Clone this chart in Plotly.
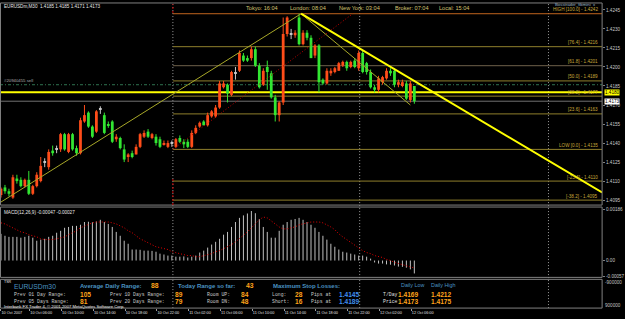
import plotly.graph_objects as go

W, H = 625, 319

# ---------------- data ----------------
header_text = "EURUSDm,M30  1.4185 1.4185 1.4171 1.4173"
session_labels = ["Tokyo: 16:04", "London: 08:04", "New York: 03:04", "Broker: 07:04", "Local: 15:04"]

bar_open = [1.4099, 1.4105, 1.4102, 1.4097, 1.4112, 1.4111, 1.4106, 1.4111, 1.4100, 1.4106,
            1.4110, 1.4125, 1.4121, 1.4134, 1.4135, 1.4135, 1.4147, 1.4133, 1.4147, 1.4136,
            1.4132, 1.4157, 1.4164, 1.4153, 1.4149, 1.4167, 1.4162, 1.4155, 1.4157, 1.4143,
            1.4144, 1.4135, 1.4129, 1.4132, 1.4131, 1.4137, 1.4145, 1.4149, 1.4144, 1.4145,
            1.4143, 1.4139, 1.4137, 1.4140, 1.4137, 1.4144, 1.4141, 1.4141, 1.4137, 1.4148,
            1.4153, 1.4157, 1.4154, 1.4161, 1.4161, 1.4168, 1.4184, 1.4186, 1.4178, 1.4195,
            1.4197, 1.4209, 1.4207, 1.4207, 1.4214, 1.4201, 1.4186, 1.4200, 1.4195, 1.4176,
            1.4162, 1.4172, 1.4226, 1.4226, 1.4225, 1.4239, 1.4218, 1.4227, 1.4223, 1.4209,
            1.4217, 1.4190, 1.4187, 1.4195, 1.4196, 1.4197, 1.4201, 1.4204, 1.4200, 1.4205,
            1.4199, 1.4211, 1.4203, 1.4196, 1.4184, 1.4182, 1.4188, 1.4191, 1.4197, 1.4197,
            1.4186, 1.4185, 1.4187, 1.4174, 1.4185]
bar_high = [1.4105, 1.4107, 1.4104, 1.4115, 1.4115, 1.4113, 1.4112, 1.4118, 1.4107, 1.4117,
            1.4129, 1.4128, 1.4135, 1.4138, 1.4138, 1.4148, 1.4148, 1.4148, 1.4148, 1.4138,
            1.4160, 1.4170, 1.4165, 1.4154, 1.4166, 1.4169, 1.4164, 1.4157, 1.4158, 1.4147,
            1.4145, 1.4139, 1.4132, 1.4134, 1.4139, 1.4148, 1.4150, 1.4151, 1.4148, 1.4147,
            1.4145, 1.4142, 1.4142, 1.4142, 1.4144, 1.4146, 1.4143, 1.4143, 1.4150, 1.4154,
            1.4157, 1.4158, 1.4164, 1.4166, 1.4170, 1.4189, 1.4189, 1.4187, 1.4197, 1.4200,
            1.4213, 1.4211, 1.4209, 1.4216, 1.4216, 1.4203, 1.4199, 1.4205, 1.4197, 1.4178,
            1.4173, 1.4239, 1.4240, 1.4230, 1.4229, 1.4242, 1.4229, 1.4229, 1.4225, 1.4218,
            1.4218, 1.4191, 1.4199, 1.4199, 1.4200, 1.4204, 1.4205, 1.4205, 1.4205, 1.4207,
            1.4213, 1.4213, 1.4204, 1.4198, 1.4186, 1.4193, 1.4193, 1.4199, 1.4199, 1.4199,
            1.4190, 1.4190, 1.4189, 1.4189, 1.4185]
bar_low = [1.4097, 1.4100, 1.4098, 1.4096, 1.4108, 1.4105, 1.4105, 1.4099, 1.4099, 1.4105,
           1.4109, 1.4121, 1.4119, 1.4130, 1.4132, 1.4133, 1.4134, 1.4132, 1.4134, 1.4130,
           1.4131, 1.4156, 1.4152, 1.4144, 1.4148, 1.4163, 1.4147, 1.4152, 1.4140, 1.4141,
           1.4135, 1.4125, 1.4125, 1.4128, 1.4131, 1.4136, 1.4144, 1.4144, 1.4143, 1.4138,
           1.4136, 1.4138, 1.4136, 1.4137, 1.4136, 1.4140, 1.4136, 1.4136, 1.4136, 1.4147,
           1.4152, 1.4154, 1.4153, 1.4160, 1.4160, 1.4167, 1.4183, 1.4172, 1.4177, 1.4190,
           1.4196, 1.4204, 1.4204, 1.4205, 1.4200, 1.4183, 1.4185, 1.4182, 1.4175, 1.4157,
           1.4157, 1.4170, 1.4224, 1.4222, 1.4223, 1.4217, 1.4217, 1.4221, 1.4207, 1.4207,
           1.4180, 1.4186, 1.4186, 1.4193, 1.4195, 1.4197, 1.4200, 1.4197, 1.4199, 1.4199,
           1.4197, 1.4195, 1.4194, 1.4183, 1.4180, 1.4180, 1.4186, 1.4190, 1.4193, 1.4184,
           1.4184, 1.4184, 1.4174, 1.4172, 1.4171]
bar_close = [1.4104, 1.4102, 1.4100, 1.4113, 1.4110, 1.4106, 1.4111, 1.4100, 1.4106, 1.4115,
             1.4122, 1.4125, 1.4133, 1.4132, 1.4135, 1.4147, 1.4135, 1.4147, 1.4135, 1.4132,
             1.4158, 1.4162, 1.4153, 1.4145, 1.4165, 1.4167, 1.4148, 1.4154, 1.4141, 1.4145,
             1.4136, 1.4127, 1.4131, 1.4129, 1.4137, 1.4147, 1.4148, 1.4145, 1.4147, 1.4140,
             1.4137, 1.4140, 1.4140, 1.4140, 1.4143, 1.4141, 1.4139, 1.4137, 1.4148, 1.4152,
             1.4156, 1.4154, 1.4162, 1.4165, 1.4168, 1.4187, 1.4187, 1.4179, 1.4196, 1.4195,
             1.4211, 1.4205, 1.4205, 1.4214, 1.4201, 1.4184, 1.4197, 1.4196, 1.4176, 1.4162,
             1.4172, 1.4226, 1.4239, 1.4226, 1.4227, 1.4218, 1.4227, 1.4223, 1.4207, 1.4217,
             1.4188, 1.4187, 1.4197, 1.4197, 1.4199, 1.4203, 1.4204, 1.4199, 1.4204, 1.4200,
             1.4211, 1.4196, 1.4196, 1.4184, 1.4182, 1.4191, 1.4192, 1.4197, 1.4195, 1.4186,
             1.4188, 1.4188, 1.4175, 1.4187, 1.4173]

macd_hist = [0.00097, 0.00090, 0.00086, 0.00086, 0.00086, 0.00083, 0.00086, 0.00090, 0.00083, 0.00072,
             0.00076, 0.00079, 0.00086, 0.00090, 0.00101, 0.00108, 0.00119, 0.00122, 0.00126, 0.00126,
             0.00130, 0.00140, 0.00141, 0.00139, 0.00142, 0.00148, 0.00140, 0.00133, 0.00122, 0.00104,
             0.00090, 0.00072, 0.00061, 0.00040, 0.00040, 0.00039, 0.00036, 0.00036, 0.00035, 0.00032,
             0.00025, 0.00022, 0.00018, 0.00018, 0.00014, 0.00014, 0.00015, 0.00011, 0.00014, 0.00018,
             0.00029, 0.00036, 0.00047, 0.00058, 0.00068, 0.00079, 0.00094, 0.00104, 0.00122, 0.00140,
             0.00155, 0.00164, 0.00171, 0.00180, 0.00172, 0.00151, 0.00122, 0.00104, 0.00083, 0.00083,
             0.00108, 0.00130, 0.00140, 0.00148, 0.00151, 0.00155, 0.00148, 0.00140, 0.00130, 0.00119,
             0.00104, 0.00090, 0.00076, 0.00061, 0.00050, 0.00040, 0.00032, 0.00029, 0.00025, 0.00022,
             0.00018, 0.00018, 0.00014, 0.00007, -0.00007, -0.00011, -0.00011, -0.00014, -0.00015, -0.00018,
             -0.00022, -0.00023, -0.00026, -0.00032, -0.00047]
macd_signal = [0.00137, 0.00133, 0.00126, 0.00119, 0.00112, 0.00104, 0.00101, 0.00094, 0.00090, 0.00086,
               0.00079, 0.00076, 0.00076, 0.00076, 0.00079, 0.00083, 0.00086, 0.00094, 0.00101, 0.00108,
               0.00119, 0.00126, 0.00130, 0.00137, 0.00140, 0.00140, 0.00140, 0.00140, 0.00137, 0.00133,
               0.00126, 0.00119, 0.00108, 0.00101, 0.00090, 0.00079, 0.00072, 0.00065, 0.00058, 0.00050,
               0.00047, 0.00043, 0.00040, 0.00032, 0.00029, 0.00025, 0.00022, 0.00018, 0.00018, 0.00014,
               0.00014, 0.00018, 0.00022, 0.00025, 0.00032, 0.00036, 0.00043, 0.00050, 0.00058, 0.00068,
               0.00079, 0.00090, 0.00104, 0.00119, 0.00133, 0.00148, 0.00158, 0.00155, 0.00144, 0.00133,
               0.00122, 0.00115, 0.00115, 0.00119, 0.00122, 0.00130, 0.00133, 0.00137, 0.00140, 0.00140,
               0.00140, 0.00137, 0.00130, 0.00122, 0.00112, 0.00097, 0.00086, 0.00076, 0.00065, 0.00054,
               0.00043, 0.00036, 0.00029, 0.00025, 0.00018, 0.00014, 0.00011, 0.00004, 0.00000, -0.00007,
               -0.00011, -0.00014, -0.00018, -0.00022, -0.00027]
macd_header = "MACD(12,26,9) -0.00047 -0.00027"

price_ticks = [1.4245, 1.4230, 1.4215, 1.4200, 1.4185, 1.4170, 1.4155, 1.4140, 1.4125, 1.4110, 1.4095]
macd_ticks = [0.00186, 0.0, -0.00057]
macd_tick_text = ["0.00186", "0.00", "-0.00057"]
time_labels = ["10 Oct 2007", "10 Oct 06:00", "10 Oct 10:00", "10 Oct 14:00", "10 Oct 18:00",
               "10 Oct 22:00", "11 Oct 02:00", "11 Oct 06:00", "11 Oct 10:00", "11 Oct 14:00",
               "11 Oct 18:00", "11 Oct 22:00", "12 Oct 02:00", "12 Oct 06:00"]
bars_per_time_label = 8

fib_levels = [1.4242, 1.4216, 1.4201, 1.4189, 1.4177, 1.4163, 1.4135, 1.4110, 1.4095]
fib_labels = ["HIGH [100.0] - 1.4242", "[76.4] - 1.4216", "[61.8] - 1.4201", "[50.0] - 1.4189",
              "[38.2] - 1.4177", "[23.6] - 1.4163", "LOW [0.0] - 1.4135", "[-23.6] - 1.4110",
              "[-38.2] - 1.4095"]
fib_anchor_bars = [43.25, 88.5]
fib_anchor_prices = [1.4135, 1.4242]

trend_up_bars = [-0.25, 75.5]
trend_up_prices = [1.4093, 1.4242]
trend_down_thin_bars = [75.5, 103.0]
trend_down_thin_prices = [1.4242, 1.4170]
trend_down_thick_bars = [75.5, 151.25]
trend_down_thick_prices = [1.4242, 1.4101]

hline_yellow_price = 1.4180
hline_order_price = 1.4186
hline_bid_price = 1.4173
order_label = "#20940455 sell"
vline_bars = [43.25, 90.25, 137.75]

tsr_symbol = "EURUSDm30"
avg_daily_range = 88
today_range = 43
prev_range_labels = ["Prev 01 Day Range:", "Prev 05 Days Range:", "Prev 10 Days Range:", "Prev 20 Days Range:"]
prev_range_values = [105, 81, 89, 79]
room_up, room_dn = 84, 48
long_pips, long_price = 28, "1.4145"
short_pips, short_price = 16, "1.4189"
tday_low, tday_high = "1.4169", "1.4212"
price_low, price_high = "1.4173", "1.4175"
footer_text = "Interbank FX Trader 4, \u00a9 2001-2007 MetaQuotes Software Corp."

# ---------------- styling / layout helpers ----------------
SANS = "Liberation Sans, Arial, sans-serif"
MONO = "Liberation Mono, Courier New, monospace"
UP, DN, DOJI = "#ff4d1a", "#33e633", "#c8c8c8"
ORANGE, BLUE_H, BLUE_V = "#ffa31a", "#4a92c0", "#3f8ff0"
FIBC = "#8f7f2c"
PLOT_R = 606

def fx(x):
    return x / W

def fy(y):
    return 1 - y / H

N = len(bar_open)
idx = list(range(N))

fig = go.Figure()

# candle bodies
body_base, body_len, body_col = [], [], []
for o, c in zip(bar_open, bar_close):
    lo, hi = min(o, c), max(o, c)
    if hi - lo < 1e-9:
        body_base.append(lo - 0.00004)
        body_len.append(0.00008)
        body_col.append(DOJI)
    else:
        body_base.append(lo)
        body_len.append(hi - lo)
        body_col.append(UP if c > o else DN)
fig.add_trace(go.Bar(x=idx, y=body_len, base=body_base, width=0.7,
                     marker=dict(color=body_col, line=dict(width=0)),
                     xaxis="x", yaxis="y", hoverinfo="skip"))

# wicks
for col in (UP, DN, DOJI):
    xs, ys = [], []
    for k in idx:
        if body_col[k] == col:
            xs += [k, k, None]
            ys += [bar_low[k], bar_high[k], None]
    fig.add_trace(go.Scatter(x=xs, y=ys, mode="lines", line=dict(color=col, width=1),
                             xaxis="x", yaxis="y", hoverinfo="skip"))

# MACD histogram as thin 1px sticks from zero
hx, hy = [], []
for k, v in zip(idx, macd_hist):
    hx += [k, k, None]
    hy += [0, v, None]
fig.add_trace(go.Scatter(x=hx, y=hy, mode="lines", line=dict(color="#c0c0c0", width=1),
                         xaxis="x2", yaxis="y2", hoverinfo="skip"))

# MACD signal
fig.add_trace(go.Scatter(x=idx, y=macd_signal, mode="lines",
                         line=dict(color="#e00000", width=1, dash="1px,2px"),
                         xaxis="x2", yaxis="y2", hoverinfo="skip"))

# trend lines
fig.add_trace(go.Scatter(x=fib_anchor_bars, y=fib_anchor_prices, mode="lines",
                         line=dict(color="#c00000", width=1, dash="1px,2px"), hoverinfo="skip"))
fig.add_trace(go.Scatter(x=trend_up_bars, y=trend_up_prices, mode="lines",
                         line=dict(color="#a8a828", width=1), hoverinfo="skip"))
fig.add_trace(go.Scatter(x=trend_down_thin_bars, y=trend_down_thin_prices, mode="lines",
                         line=dict(color="#a8a828", width=1), hoverinfo="skip"))
fig.add_trace(go.Scatter(x=trend_down_thick_bars, y=trend_down_thick_prices, mode="lines",
                         line=dict(color="#ffff00", width=2), hoverinfo="skip"))

shapes = []
# panel borders
for (y0, y1) in [(2, 206), (208, 279), (281, 310)]:
    shapes.append(dict(type="rect", xref="paper", yref="paper", x0=fx(0.5), x1=fx(PLOT_R),
                       y0=fy(y1), y1=fy(y0), line=dict(color="#808080", width=1)))
# vertical separators
for vb in vline_bars:
    shapes.append(dict(type="line", xref="x", yref="paper", x0=vb, x1=vb, y0=fy(310), y1=fy(3),
                       line=dict(color="#9a9a9a", width=1, dash="1px,2px"), layer="below"))
shapes.append(dict(type="line", xref="x", yref="paper", x0=vline_bars[0], x1=vline_bars[0],
                   y0=fy(12), y1=fy(3), line=dict(color="#d00000", width=1, dash="2px,2px")))
shapes.append(dict(type="line", xref="x", yref="paper", x0=vline_bars[0], x1=vline_bars[0],
                   y0=fy(206), y1=fy(178), line=dict(color="#d00000", width=1, dash="2px,2px")))
# fibo levels
for i, lv in enumerate(fib_levels):
    col = "#c0641e" if i == 0 else ("#6e604a" if i == 2 else FIBC)
    shapes.append(dict(type="line", xref="x", yref="y", x0=fib_anchor_bars[0], x1=151.25,
                       y0=lv, y1=lv, line=dict(color=col, width=1), layer="below"))
# horizontal lines
shapes.append(dict(type="line", xref="paper", yref="y", x0=0, x1=fx(PLOT_R),
                   y0=hline_order_price, y1=hline_order_price,
                   line=dict(color="#2f7350", width=1, dash="3px,2px,1px,2px"), layer="below"))
shapes.append(dict(type="line", xref="paper", yref="y", x0=0, x1=fx(PLOT_R),
                   y0=hline_bid_price, y1=hline_bid_price,
                   line=dict(color="#707070", width=1), layer="below"))
shapes.append(dict(type="line", xref="paper", yref="y", x0=0, x1=fx(PLOT_R),
                   y0=hline_yellow_price, y1=hline_yellow_price,
                   line=dict(color="#ffff00", width=2), layer="below"))

ann = []

def text(x, y, s, size, color, family=SANS, bold=False, xanchor="left", bg=None):
    d = dict(x=fx(x), y=fy(y), xref="paper", yref="paper", showarrow=False,
             text=("<b>%s</b>" % s) if bold else s, xanchor=xanchor, yanchor="middle",
             borderpad=0, font=dict(size=size, color=color, family=family))
    if bg:
        d["bgcolor"] = bg
    ann.append(d)

# main panel texts
text(3, 5.5, header_text, 4.6, "#e8e8e8")
for s, x in zip(session_labels, [247, 291, 340, 397, 441]):
    text(x, 7.5, s, 5.6, "#d2c070")
text(558, 4, "Bosstrader_fibmini  x", 4.3, "#9ab4c4")
for lv, lab in zip(fib_levels, fib_labels):
    ann.append(dict(x=fx(603), y=lv, xref="paper", yref="y", showarrow=False, text=lab,
                    xanchor="right", yanchor="bottom", borderpad=0, yshift=0.5,
                    font=dict(size=4.6, color="#c8a83a", family=SANS)))
ann.append(dict(x=fx(3), y=hline_order_price, xref="paper", yref="y", showarrow=False,
                text=order_label, xanchor="left", yanchor="bottom", borderpad=0, yshift=1,
                font=dict(size=4.3, color="#b0b0b0", family=SANS)))
ann.append(dict(x=fx(608), y=hline_yellow_price, xref="paper", yref="y", showarrow=False,
                text="%.4f" % hline_yellow_price, xanchor="left", yanchor="middle", borderpad=0,
                bgcolor="#ffff00", font=dict(size=4.6, color="#000000", family=SANS)))
ann.append(dict(x=fx(608), y=hline_bid_price, xref="paper", yref="y", showarrow=False,
                text="%.4f" % hline_bid_price, xanchor="left", yanchor="middle", borderpad=0,
                bgcolor="#ffffff", font=dict(size=4.6, color="#000000", family=SANS)))

# MACD header
text(3, 214, macd_header, 4.6, "#e8e8e8")

# TSR panel
text(3, 284, "TSR", 3.6, "#e8e8e8")
text(13, 288, tsr_symbol, 6.8, BLUE_H)
text(80, 287.5, "Average Daily Range:", 6.0, BLUE_H, bold=True)
text(151, 287.5, str(avg_daily_range), 6.8, ORANGE, bold=True)
text(178, 287.5, "Today Range so far:", 6.0, BLUE_H, bold=True)
text(247, 287.5, str(today_range), 6.8, ORANGE, bold=True)
text(274, 287.5, "Maximum Stop Losses:", 6.0, BLUE_H, bold=True)
text(403, 286.5, "Daily Low", 5.4, BLUE_H)
text(433, 286.5, "Daily High", 5.4, BLUE_H)
rows = [(296.0, 0, 2, "Room UP:", room_up, "Long:", long_pips, long_price, "T/Day", tday_low, tday_high),
        (303.0, 1, 3, "Room DN:", room_dn, "Short:", short_pips, short_price, "Price", price_low, price_high)]
for (yy, a, b, rlab, rval, slab, spips, sprice, dlab, dlo, dhi) in rows:
    text(13, yy, prev_range_labels[a], 4.8, "#c8c8c8", family=MONO)
    text(80, yy, str(prev_range_values[a]), 6.6, ORANGE, bold=True)
    text(110, yy, prev_range_labels[b], 4.8, "#c8c8c8", family=MONO)
    text(175, yy, str(prev_range_values[b]), 6.6, ORANGE, bold=True)
    text(207, yy, rlab, 4.8, "#c8c8c8", family=MONO)
    text(242, yy, str(rval), 6.6, ORANGE, bold=True)
    text(273, yy, slab, 4.8, "#c8c8c8", family=MONO)
    text(296, yy, str(spips), 6.6, ORANGE, bold=True)
    text(312, yy, "Pips at", 4.8, "#c8c8c8", family=MONO)
    text(340, yy, sprice, 6.6, BLUE_V, bold=True)
    text(384, yy, dlab, 4.8, "#e0e0e0", family=MONO)
    text(400, yy, dlo, 6.6, ORANGE, bold=True)
    text(433, yy, dhi, 6.6, ORANGE, bold=True)
text(3, 308, footer_text, 4.2, "#f0f0f0")
text(608, 284, "-900000", 4.6, "#c0c0c0")
text(608, 307, "900000", 4.6, "#c0c0c0")

# axes geometry
price_top = 1.4245 + 6 / 12800.0
price_bot = 1.4245 - 197 / 12800.0
x_range = [-0.25, (PLOT_R - 1) / 4.0]
time_tickvals = [max(0.0, i * bars_per_time_label - 0.75) for i in range(len(time_labels))]

fig.update_layout(
    width=W, height=H, margin=dict(l=0, r=0, t=0, b=0),
    paper_bgcolor="#000000", plot_bgcolor="#000000",
    showlegend=False, hovermode=False,
    shapes=shapes, annotations=ann,
    xaxis=dict(domain=[0, fx(PLOT_R)], range=x_range, anchor="y",
               showticklabels=False, showgrid=False, zeroline=False, ticks=""),
    yaxis=dict(domain=[fy(206), fy(3)], range=[price_bot, price_top], anchor="x", side="right",
               tickvals=price_ticks, ticktext=["%.4f" % t for t in price_ticks],
               tickfont=dict(size=4.6, color="#c8c8c8", family=SANS),
               ticks="outside", ticklen=2, tickcolor="#808080",
               showgrid=False, zeroline=False, showline=False),
    xaxis2=dict(domain=[0, fx(PLOT_R)], range=x_range, anchor="free", position=fy(310),
                tickvals=time_tickvals, ticktext=time_labels, ticklabelposition="outside right",
                tickangle=0, tickfont=dict(size=3.8, color="#e0e0e0", family=SANS),
                ticks="outside", ticklen=2, tickcolor="#a0a0a0",
                showgrid=False, zeroline=False, showline=False),
    yaxis2=dict(domain=[fy(278), fy(209)], range=[-0.000576, 0.001908], anchor="x2", side="right",
                tickvals=macd_ticks, ticktext=macd_tick_text,
                tickfont=dict(size=4.6, color="#c8c8c8", family=SANS),
                ticks="outside", ticklen=2, tickcolor="#808080",
                showgrid=False, zeroline=False, showline=False),
)

fig.write_html("out.html", config={"displayModeBar": False})
